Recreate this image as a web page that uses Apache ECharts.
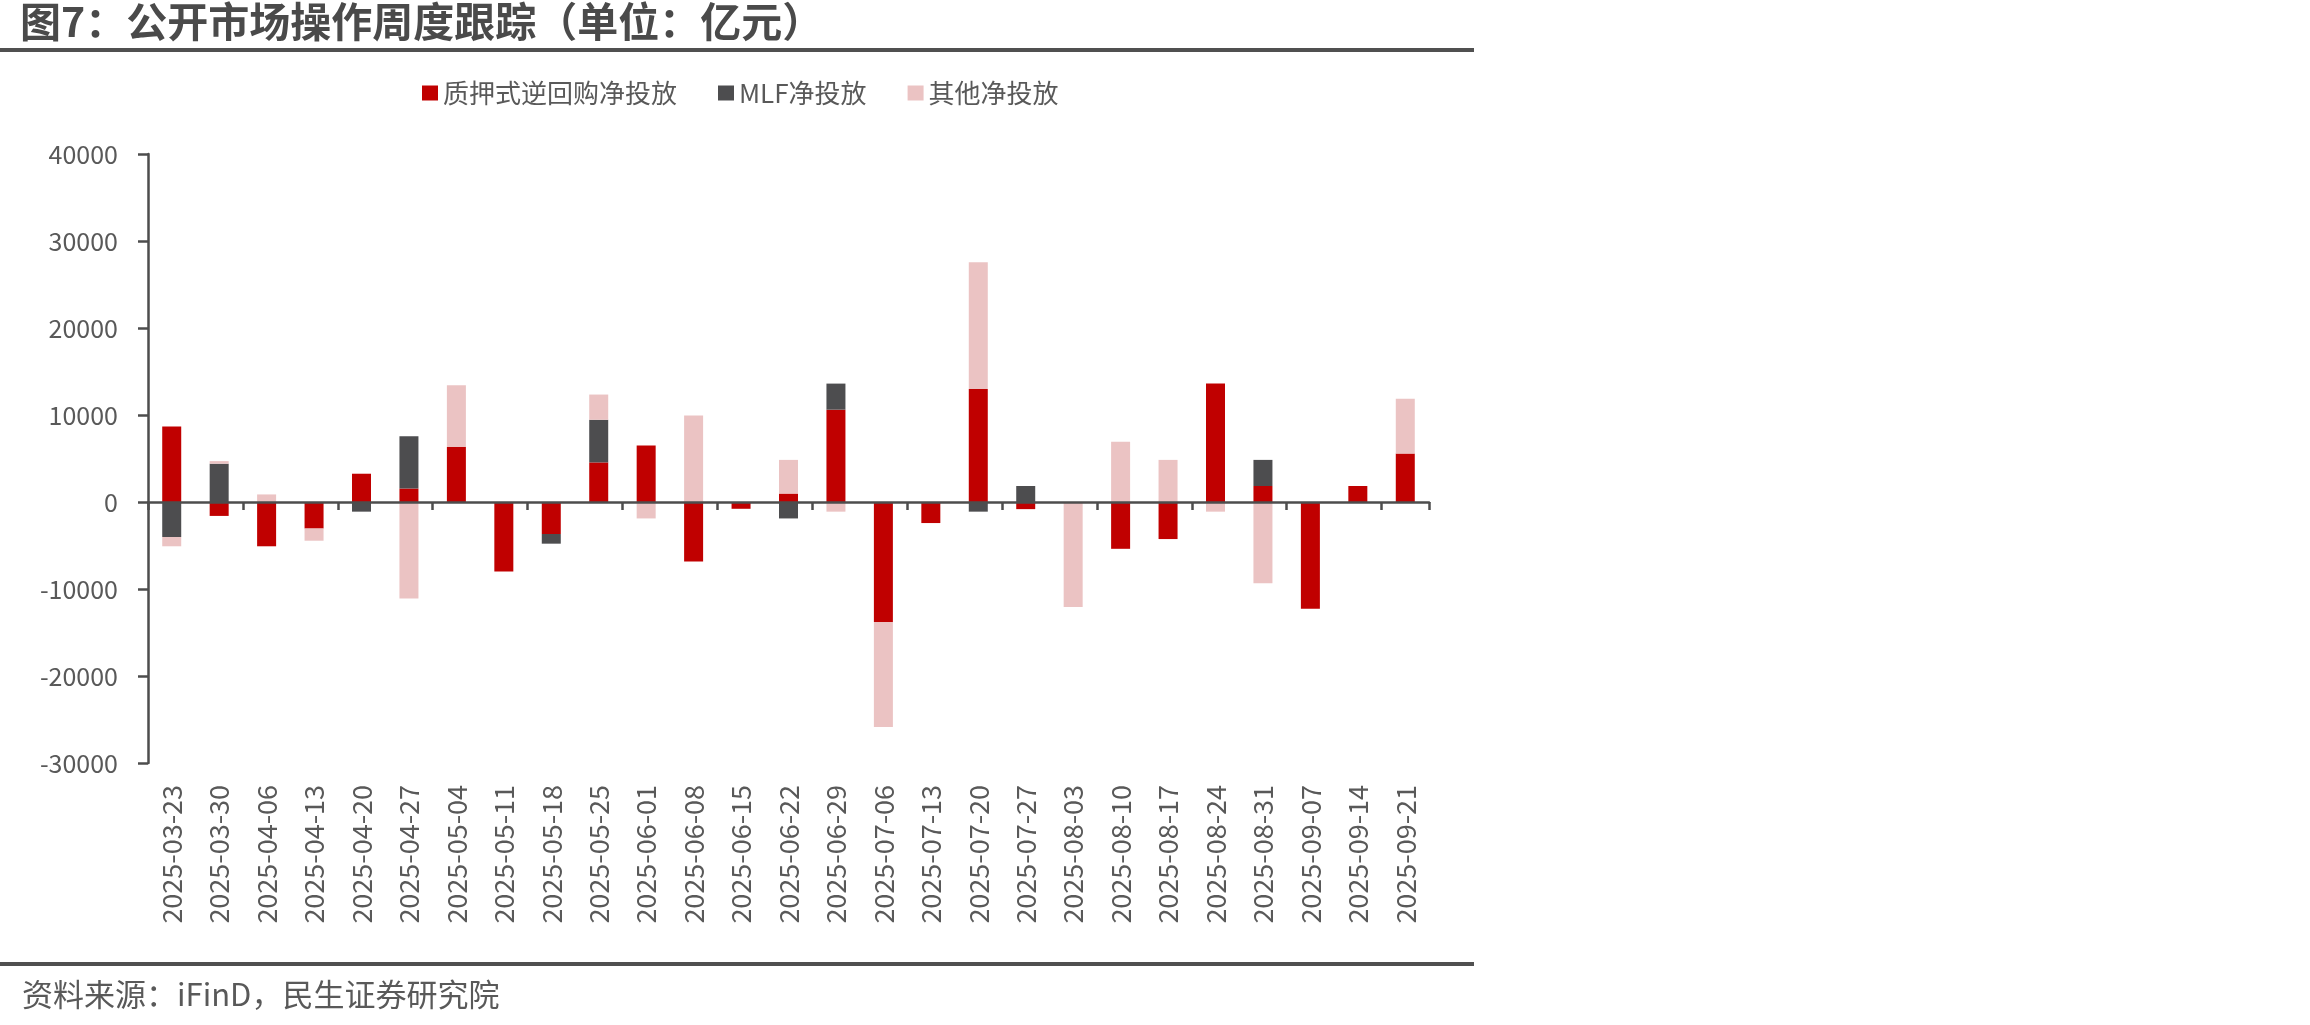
<!DOCTYPE html>
<html>
<head>
<meta charset="utf-8">
<title>公开市场操作周度跟踪</title>
<script src="https://cdn.jsdelivr.net/npm/echarts@6.0.0/dist/echarts.min.js"></script>
<style>
  html, body { margin: 0; padding: 0; background: #fff; }
  .chart { width: 2310px; height: 1025px; }
</style>
</head>
<body>
<div class="chart"></div>
<script>
// 周度日期
const dates = ['2025-03-23', '2025-03-30', '2025-04-06', '2025-04-13', '2025-04-20', '2025-04-27',
  '2025-05-04', '2025-05-11', '2025-05-18', '2025-05-25', '2025-06-01', '2025-06-08', '2025-06-15',
  '2025-06-22', '2025-06-29', '2025-07-06', '2025-07-13', '2025-07-20', '2025-07-27', '2025-08-03',
  '2025-08-10', '2025-08-17', '2025-08-24', '2025-08-31', '2025-09-07', '2025-09-14', '2025-09-21'];
// 质押式逆回购净投放（亿元）
const repoNet = [8670, -1600, -5090, -3050, 3250, 1550, 6350, -7990, -3680, 4550, 6490, -6830, -780,
  970, 10610, -13810, -2420, 12980, -820, 0, -5380, -4260, 13610, 1840, -12260, 1840, 5570];
// MLF净投放
const mlfNet = [-4020, 4400, 0, 0, -1110, 6000, 0, 0, -1110, 4900, 0, 0, 0,
  -1890, 3000, 0, 0, -1110, 1840, 0, 0, 0, 0, 3000, 0, 0, 0];
// 其他净投放
const otherNet = [-1070, 300, 870, -1400, 0, -11100, 7070, 0, 0, 2900, -1890, 9930, 0,
  3870, -1110, -12060, 0, 14580, 0, -12060, 6930, 4840, -1110, -9350, 0, 0, 6300];
const names = ['质押式逆回购净投放', 'MLF净投放', '其他净投放'];
const colors = ['#C00000', '#4D4D4F', '#EBC3C3'];

const font = 'Noto Sans CJK SC';
const axisColor = '#4D4D4D';
const myChart = echarts.init(document.querySelector('.chart'));

let option = {
  animation: false,
  textStyle: { fontFamily: font },
  title: {
    text: '图7：公开市场操作周度跟踪（单位：亿元）',
    left: 20,
    top: 1,
    padding: 0,
    textStyle: { fontSize: 41, fontWeight: 'bold', color: '#4A4A4A', fontFamily: font }
  },
  legend: {
    data: names,
    left: 417,
    top: 75,
    itemWidth: 16,
    itemHeight: 15,
    itemGap: 41,
    icon: 'rect',
    textStyle: { fontSize: 26, color: '#595959', fontFamily: font }
  },
  grid: {
    left: 148,
    right: 881,
    top: 154,
    bottom: 262,
    outerBoundsMode: 'none'
  },
  xAxis: [
    // 零轴：只画轴线和刻度
    {
      type: 'category',
      data: dates,
      z: 10,
      axisLine: { onZero: true, lineStyle: { color: axisColor, width: 2.5 } },
      axisTick: { show: true, length: 8, lineStyle: { color: axisColor, width: 2.5 } },
      axisLabel: { show: false }
    },
    // 底部日期标签
    {
      type: 'category',
      data: dates,
      position: 'bottom',
      axisLine: { show: false, onZero: false },
      axisTick: { show: false },
      axisLabel: {
        rotate: 90,
        margin: 22,
        fontSize: 27,
        color: '#595959',
        fontFamily: font
      }
    }
  ],
  yAxis: {
    type: 'value',
    min: -30000,
    max: 40000,
    interval: 10000,
    splitLine: { show: false },
    axisLine: { show: true, lineStyle: { color: axisColor, width: 2.5 } },
    axisTick: { show: true, length: 10, lineStyle: { color: axisColor, width: 2.5 } },
    axisLabel: {
      margin: 30,
      fontSize: 25,
      color: '#595959',
      fontFamily: font,
      formatter: (v) => String(v)
    }
  },
  series: [
    { name: names[0], type: 'bar', stack: 'net', barWidth: 19, data: repoNet, itemStyle: { color: colors[0] } },
    { name: names[1], type: 'bar', stack: 'net', barWidth: 19, data: mlfNet, itemStyle: { color: colors[1] } },
    { name: names[2], type: 'bar', stack: 'net', barWidth: 19, data: otherNet, itemStyle: { color: colors[2] } }
  ],
  graphic: [
    // 标题下方分隔线
    { type: 'rect', shape: { x: 0, y: 48, width: 1474, height: 4 }, style: { fill: '#505050' } },
    // 底部分隔线
    { type: 'rect', shape: { x: 0, y: 962, width: 1474, height: 4 }, style: { fill: '#505050' } },
    {
      type: 'text',
      left: 22,
      top: 979,
      style: { text: '资料来源：iFinD，民生证券研究院', fontSize: 31, fill: '#595959', fontFamily: font }
    }
  ]
};
myChart.setOption(option);
</script>
</body>
</html>
